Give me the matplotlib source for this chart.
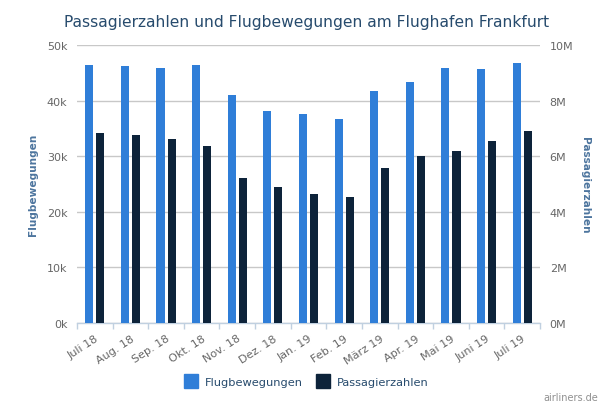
import matplotlib
matplotlib.use("Agg")
import matplotlib.pyplot as plt
import numpy as np
from matplotlib.lines import Line2D

months = ["Juli 18", "Aug. 18", "Sep. 18", "Okt. 18", "Nov. 18", "Dez. 18",
          "Jan. 19", "Feb. 19", "März 19", "Apr. 19", "Mai 19", "Juni 19", "Juli 19"]
flugbewegungen = [46400, 46200, 45800, 46400, 41000, 38100, 37600, 36700,
                  41800, 43400, 45900, 45600, 46800]
passagiere = [6.83e6, 6.76e6, 6.62e6, 6.37e6, 5.22e6, 4.90e6, 4.65e6, 4.55e6,
              5.58e6, 6.01e6, 6.19e6, 6.55e6, 6.90e6]
left_ticks = [0, 10000, 20000, 30000, 40000, 50000]
left_labels = ["0k", "10k", "20k", "30k", "40k", "50k"]
right_ticks = [0, 2e6, 4e6, 6e6, 8e6, 10e6]
right_labels = ["0M", "2M", "4M", "6M", "8M", "10M"]

BLUE = "#2f7ed8"
DARK = "#0d233a"
TITLE_C = "#274b6d"
AXT_C = "#4d759e"
LAB_C = "#666666"
FONT = "DejaVu Sans"
plt.rcParams["font.family"] = FONT

W, H = 613, 406
fig = plt.figure(figsize=(W / 100, H / 100), dpi=100)
L, R, T, B = 77, 540, 46, 324
ax = fig.add_axes([L / W, 1 - B / H, (R - L) / W, (B - T) / H])
ax2 = ax.twinx()

x = np.arange(len(months))
bw = 0.226
off = 0.155
ax.bar(x - off, flugbewegungen, width=bw, color=BLUE, zorder=3)
ax2.bar(x + off, passagiere, width=bw, color=DARK, zorder=3)

ax.set_xlim(-0.5, len(months) - 0.5)
ax.set_ylim(0, 50000)
ax2.set_ylim(0, 10e6)

for a in (ax, ax2):
    for s in a.spines.values():
        s.set_visible(False)

ax.set_yticks(left_ticks)
ax.set_yticklabels(left_labels)
ax2.set_yticks(right_ticks)
ax2.set_yticklabels(right_labels)
ax.tick_params(axis="y", length=0, pad=7, labelsize=8, labelcolor=LAB_C)
ax2.tick_params(axis="y", length=0, pad=7, labelsize=8, labelcolor=LAB_C)
ax.grid(axis="y", color="#c8c8c8", linewidth=1, zorder=0)
ax.set_axisbelow(True)

ax.spines["bottom"].set_visible(True)
ax.spines["bottom"].set_color("#c0d0e0")
ax.spines["bottom"].set_linewidth(1)
ax.set_xticks(np.arange(-0.5, len(months) + 0.5, 1.0), minor=False)
ax.set_xticklabels([])
ax.tick_params(axis="x", which="major", length=4, color="#c0d0e0", width=1)
ax.set_xticks(x, minor=True)
ax.set_xticklabels(months, minor=True, rotation=33, ha="right",
                   rotation_mode="anchor", fontsize=8, color=LAB_C)
ax.tick_params(axis="x", which="minor", length=0, pad=7)

fig.text(33 / W, 1 - 185 / H, "Flugbewegungen", rotation=90, ha="center",
         va="center", fontsize=7.6, fontweight="bold", color=AXT_C)
fig.text(585 / W, 1 - 185 / H, "Passagierzahlen", rotation=270, ha="center",
         va="center", fontsize=7.6, fontweight="bold", color=AXT_C)

fig.text(0.5, 1 - 22 / H, "Passagierzahlen und Flugbewegungen am Flughafen Frankfurt",
         ha="center", va="center", fontsize=11.2, color=TITLE_C)

handles = [Line2D([], [], marker="s", linestyle="", markersize=10,
                  markerfacecolor=BLUE, markeredgecolor=BLUE),
           Line2D([], [], marker="s", linestyle="", markersize=10,
                  markerfacecolor=DARK, markeredgecolor=DARK)]
fig.legend(handles, ["Flugbewegungen", "Passagierzahlen"], loc="center",
           bbox_to_anchor=(0.5, 1 - 383 / H), ncol=2, frameon=False,
           fontsize=8.2, labelcolor=TITLE_C, handletextpad=0.6, columnspacing=1.2,
           handlelength=1.2)

fig.text(598 / W, 1 - 398 / H, "airliners.de", ha="right", va="center",
         fontsize=7, color="#909090")

fig.savefig("out.png", dpi=100)
